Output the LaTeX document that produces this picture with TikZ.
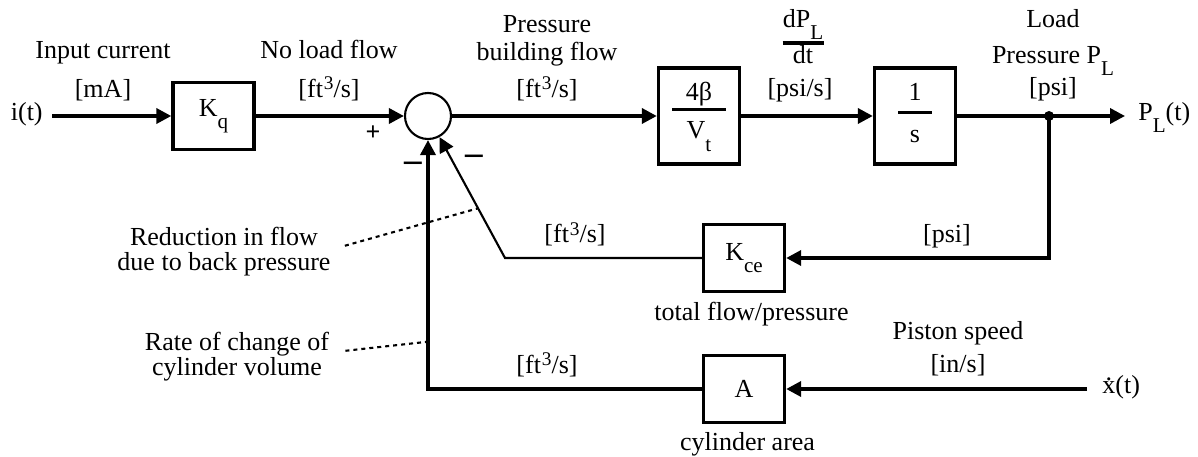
\documentclass[tikz,border=0pt]{standalone}
\usepackage{fontspec}
\setmainfont{Liberation Serif}
\usetikzlibrary{positioning,arrows.meta,calc}

\newcommand{\lsub}[1]{\raisebox{-7pt}{\fontsize{12}{12}\selectfont #1}}
\newcommand{\usup}[1]{\raisebox{4.5pt}{\fontsize{11}{11}\selectfont #1}}
\newcommand{\ftcube}{[ft\kern0.5pt\usup{3}/s]}
\newcommand{\xdot}{\ooalign{x\cr\hidewidth\raisebox{0.48em}{.}\hidewidth\cr}}
\newcommand{\barfrac}[6]{%
  \begin{tabular}{@{}c@{}}#1\\[#5]\rule{#3}{#4}\\[#6]#2\end{tabular}}

\begin{document}
\begin{tikzpicture}[
    x=0.2mm, y=-0.2mm,
    every node/.style={font=\fontsize{14.8}{16}\selectfont, align=center, inner sep=0pt},
    gain/.style={draw, line width=1.9pt, minimum width=16.2mm, minimum height=13.4mm},
    tfblock/.style={gain, minimum height=19.2mm},
    sumjn/.style={draw, circle, line width=1.2pt, minimum size=9.2mm},
    sig/.style={line width=2pt, -{Triangle[length=3mm, width=3mm]}},
    fb/.style={sig, line width=1.2pt},
    leader/.style={line width=1.2pt, dash pattern=on 0.8mm off 0.8mm},
    sign/.style={font=\fontsize{20}{20}\bfseries\selectfont},
  ]
  \useasboundingbox (0,0) rectangle (1198,457);

  % forward path
  \node[anchor=mid east, inner xsep=1.8mm] (it) at (52,116) {i(t)};
  \node[gain] (kq) at (213.5,116) {K\lsub{q}};
  \node[sumjn] (sum) at (428,116) {};
  \node[tfblock] (vt) at (699,116) {\barfrac{4β}{V\lsub{t}}{10.8mm}{1.7pt}{-10pt}{0pt}};
  \node[tfblock] (integ) at (915,116) {\barfrac{1}{s}{6.8mm}{1.7pt}{-8.6pt}{0.5pt}};
  \node[anchor=mid west, inner xsep=2.6mm] (pl) at (1125,116) {P\lsub{L}(t)};
  \coordinate (tap) at (1049,116);

  % feedback blocks
  \node[gain] (kce) at (744,258) {K\lsub{ce}};
  \node[gain] (area) at (744,389) {A};
  \node[anchor=mid west, inner xsep=3mm] (xd) at (1087,389) {\xdot(t)};
  \coordinate (fbk) at (505,258);

  % signal labels
  \node[anchor=north, font=\fontsize{14.8}{22.2}\selectfont] (inlbl) at (103,40.8) {Input current\\{}[mA]};
  \node[anchor=north, font=\fontsize{14.8}{22.2}\selectfont] (nlbl) at (329,40.2) {No load flow\\\ftcube};
  \node[anchor=north] (pbflbl) at (547,14.8) {Pressure\\building flow\\[5pt]\ftcube};
  \node[anchor=north] (rate) at (803,7.3) {\barfrac{dP\lsub{L}}{dt}{8.2mm}{2.5pt}{-8.1pt}{-5.6pt}};
  \node[anchor=base] (psis) at (800,97) {[psi/s]};
  \node[anchor=north, font=\fontsize{14.8}{20.5}\selectfont] (loadlbl) at (1053,9.2) {Load\\Pressure P\lsub{L}\\[-2.3pt]{}[psi]};
  \node[anchor=base] (kceunit) at (575,243) {\ftcube};
  \node[anchor=base] (psiunit) at (947,243) {[psi]};
  \node[anchor=base] (areaunit) at (547,373) {\ftcube};
  \node[below=1.8mm of kce, xshift=1.5mm] (kcelbl) {total flow/pressure};
  \node[below=1.6mm of area, xshift=0.7mm] (arealbl) {cylinder area};
  \node[anchor=north, font=\fontsize{14.8}{19}\selectfont] (spdlbl) at (958,321) {Piston speed\\{}[in/s]};

  % notes
  \node[anchor=north, font=\fontsize{14.8}{14.2}\selectfont] (reduct) at (224,227) {Reduction in flow\\due to back pressure};
  \node[anchor=north, font=\fontsize{14.8}{14.2}\selectfont] (ratecv) at (237,332) {Rate of change of\\cylinder volume};

  % summing signs
  \node[font=\fontsize{14.8}{16}\bfseries\selectfont] (plus) at (373,133) {+};
  \node[sign] (minusa) at (413,167) {\textendash};
  \node[sign] (minusb) at (474,160) {\textendash};

  % connectors
  \draw[sig] (it.mid east) -- (kq);
  \draw[sig] (kq) -- (sum);
  \draw[sig] (sum) -- (vt);
  \draw[sig] (vt) -- (integ);
  \draw[sig] (integ) -- (pl.mid west);
  \fill (tap) circle[radius=1mm];
  \draw[sig] (tap) |- (kce);
  \draw[fb] (kce) -- (fbk) -- (sum);
  \draw[sig] (xd.mid west) -- (area);
  \draw[sig] (area) -| (sum);

  % dotted leaders
  \path (fbk) -- coordinate[pos=0.35] (reducpt) (sum.center);
  \path (sum.south) -- coordinate[pos=0.81] (ratept) (sum |- area);
  \draw[leader] ([xshift=2.8mm, yshift=1.2mm]reduct.east) -- (reducpt);
  \draw[leader] ([xshift=3.2mm, yshift=1.2mm]ratecv.east) -- (ratept);
\end{tikzpicture}
\end{document}
